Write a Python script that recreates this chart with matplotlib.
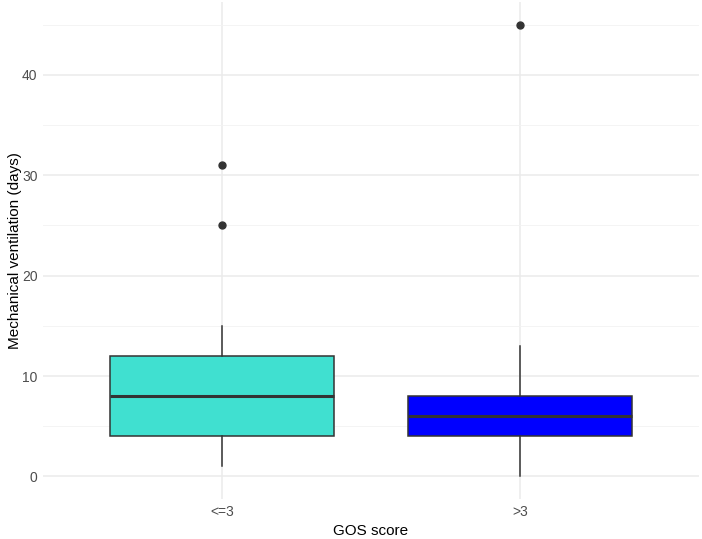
import matplotlib
matplotlib.use("Agg")
import matplotlib.pyplot as plt

plt.rcParams["font.family"] = ["Liberation Sans", "DejaVu Sans"]

# data
groups = ["<=3", ">3"]
whisker_low = [1, 0]
q1 = [4, 4]
median = [8, 6]
q3 = [12, 8]
whisker_high = [15, 13]
outliers = [[25, 31], [45]]
fills = ["#40E0D0", "#0000FF"]

stats = []
for i, g in enumerate(groups):
    stats.append({
        "label": g,
        "whislo": whisker_low[i],
        "q1": q1[i],
        "med": median[i],
        "q3": q3[i],
        "whishi": whisker_high[i],
        "fliers": outliers[i],
    })

fig = plt.figure(figsize=(7.02, 5.39), dpi=100)
ax = fig.add_axes([43 / 702, 40 / 539, 656 / 702, 497 / 539])

edge = "#333333"
bp = ax.bxp(
    stats, positions=[1, 2], widths=0.75, patch_artist=True, showcaps=False,
    boxprops=dict(edgecolor=edge, linewidth=1.1),
    medianprops=dict(color=edge, linewidth=2.2),
    whiskerprops=dict(color=edge, linewidth=1.1),
    flierprops=dict(marker="o", markerfacecolor=edge, markeredgecolor=edge,
                    markersize=5),
)
for patch, c in zip(bp["boxes"], fills):
    patch.set_facecolor(c)
for item in bp["boxes"] + bp["medians"] + bp["whiskers"] + bp["fliers"]:
    item.set_zorder(3)

ax.set_xlim(0.4, 2.6)
ax.set_ylim(-2.25, 47.25)
ax.set_yticks([0, 10, 20, 30, 40])
ax.set_yticks([5, 15, 25, 35, 45], minor=True)
ax.set_xticks([1, 2])
ax.set_xticklabels(groups)

ax.grid(True, which="major", color="#EBEBEB", linewidth=1.1, zorder=0)
ax.grid(True, which="minor", axis="y", color="#F2F2F2", linewidth=0.6, zorder=0)
ax.set_axisbelow(True)
for s in ax.spines.values():
    s.set_visible(False)
ax.tick_params(which="both", length=0, labelsize=10, labelcolor="#4D4D4D", pad=4)

ax.set_xlabel("GOS score", fontsize=11, labelpad=4)
ax.set_ylabel("Mechanical ventilation (days)", fontsize=11)
ax.yaxis.set_label_coords(-0.032, 0.5)

fig.savefig("out.png", dpi=100)
